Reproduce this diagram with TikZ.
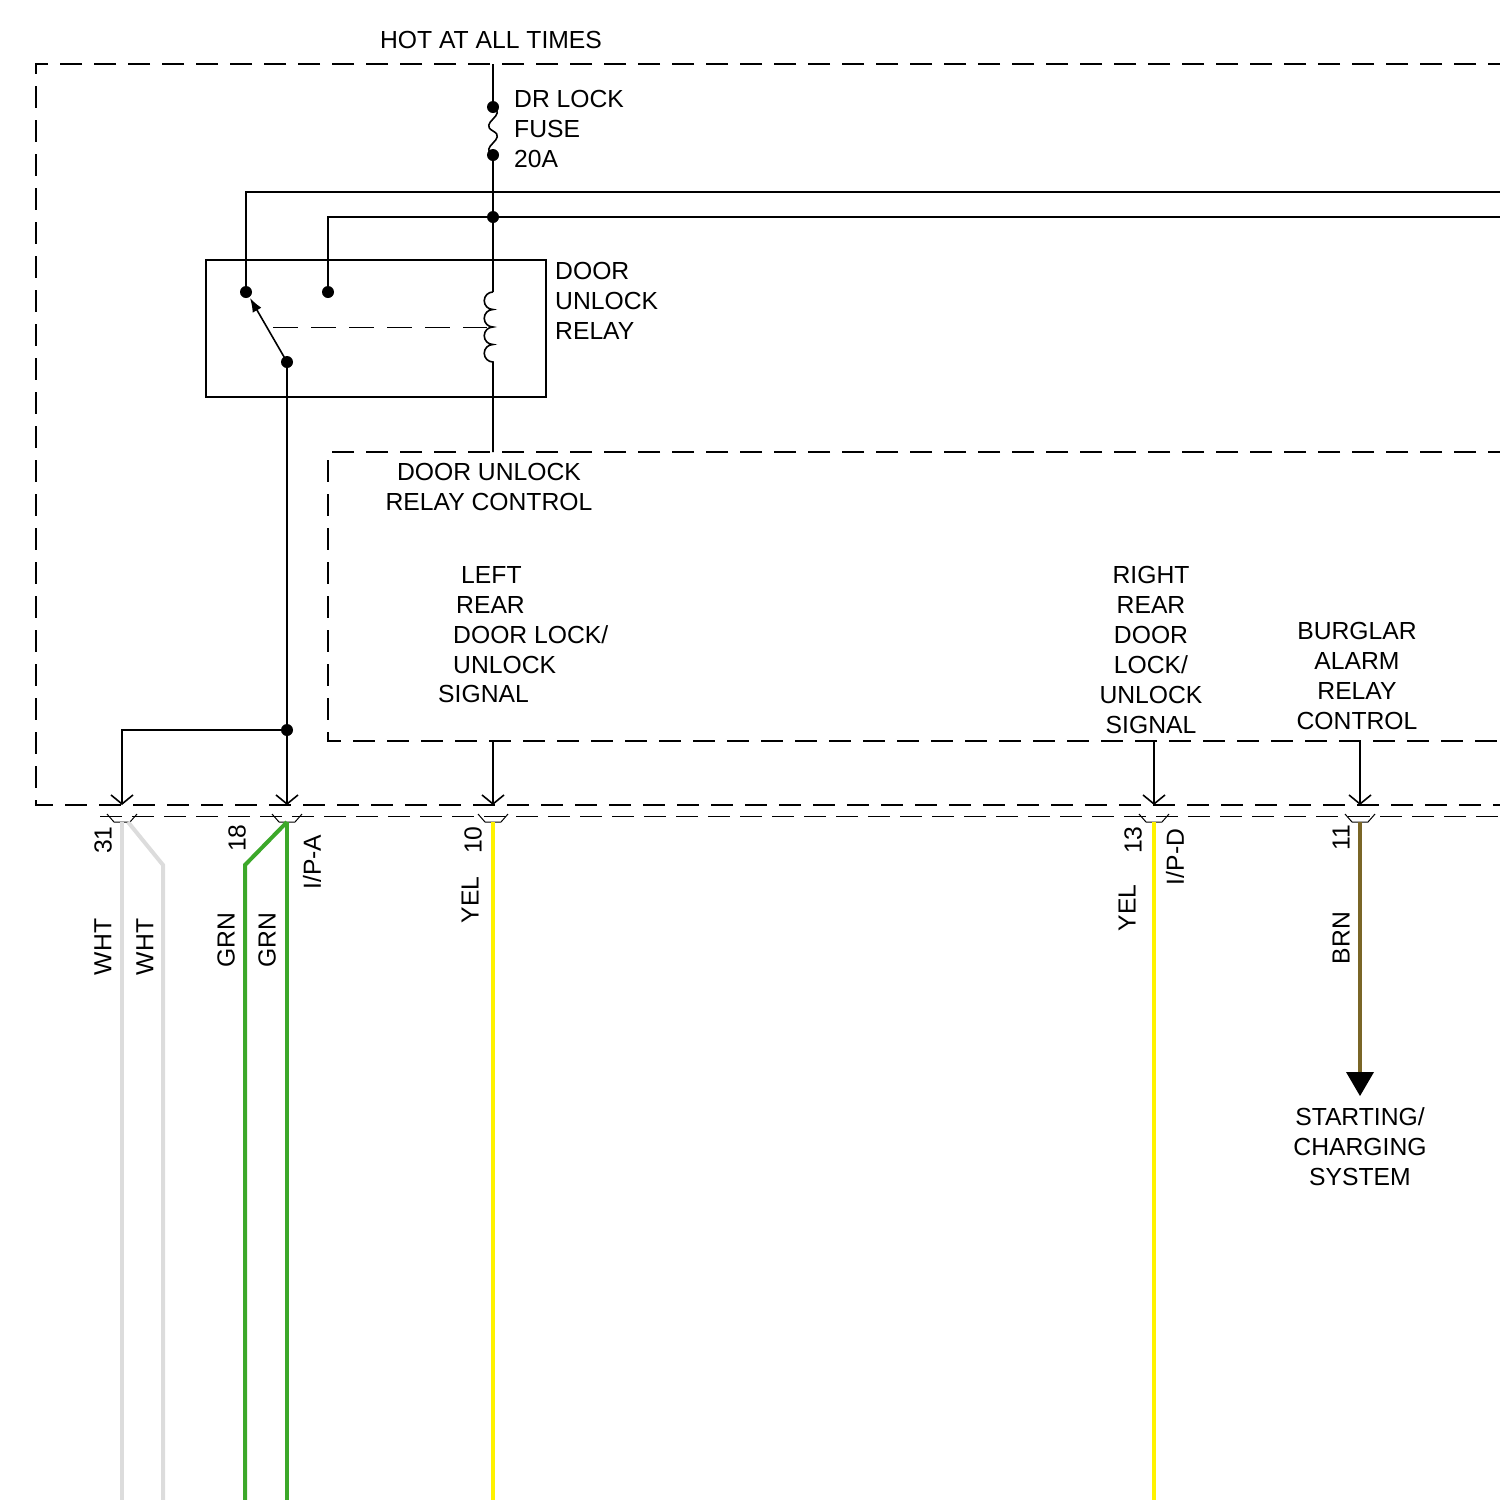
\documentclass[tikz,border=0pt]{standalone}
\usepackage{fontspec}
\setmainfont{Liberation Sans}
\usetikzlibrary{arrows.meta}
\definecolor{wgrn}{HTML}{3CA82A}
\definecolor{wbrn}{HTML}{7A6626}
\definecolor{wwht}{HTML}{DCDCDC}
\begin{document}
\begin{tikzpicture}[x=1pt,y=-1pt,
  wire/.style={line width=1.6pt},
  dsh/.style={line width=1.6pt,dash pattern=on 22pt off 12pt},
  dot/.style={circle,fill=black,inner sep=0pt,minimum size=12pt},
  lbl/.style={font=\fontsize{24.7}{30}\selectfont,inner sep=0pt},
  rl/.style={lbl,rotate=90},
  varr/.style={wire,-{Straight Barb[length=9pt,width=22pt,line width=1.6pt]}},
  cw/.style={line width=4pt}]
\useasboundingbox (0,0) rectangle (1500,1500);
% frames
\draw[dsh] (1510,64) -- (36,64) -- (36,805) -- (1510,805);
\draw[dsh] (1510,452) -- (328,452) -- (328,741) -- (1510,741);
\draw[line width=1pt,dash pattern=on 22pt off 10pt] (100,816) -- (1510,816);
% top texts
\node[lbl] (hot) at (491,40) {HOT AT ALL TIMES};
\node[lbl,anchor=west,align=left] (fuset) at (514,129) {DR LOCK\\FUSE\\20A};
\node[lbl,anchor=west,align=left] (relt) at (555,301) {DOOR\\UNLOCK\\RELAY};
\node[lbl,align=center] (ctl) at (489,487) {DOOR UNLOCK\\RELAY CONTROL};
% fuse
\coordinate (ftop) at (493,64);
\node[dot] (f1) at (493,107) {};
\node[dot] (f2) at (493,155) {};
\node[dot] (j1) at (493,217) {};
\draw[wire] (ftop) -- (f1.center);
\draw[wire] (f1.center) .. controls (508,115) and (478,123) .. (493,131) .. controls (508,139) and (478,147) .. (f2.center);
\draw[wire] (f2.center) -- (j1.center) -- (493,292);
\draw[wire] (493,292) \foreach \i in {0,...,3} { arc[start angle=90,end angle=270,radius=8.75pt] } -- (493,452);
% horizontal buses
\coordinate (b1) at (1510,192);
\coordinate (b2) at (1510,217);
% relay
\draw[wire] (206,260) rectangle (546,397);
\node[dot] (c1) at (246,292) {};
\node[dot] (c2) at (328,292) {};
\node[dot] (c3) at (287,362) {};
\draw[wire] (c1.center) -- (246,192) -- (b1);
\draw[wire] (c2.center) -- (328,217) -- (j1.center) -- (b2);
\draw[wire,-{Latex[length=14pt,width=10pt]}] (c3.center) -- (250,298);
\draw[line width=1pt,dash pattern=on 25pt off 13pt] (273,327) -- (487,327);
% lower feed
\node[dot] (j2) at (287,730) {};
\draw[wire] (c3.center) -- (j2.center);
\draw[varr] (j2.center) -- (287,805);
\draw[varr] (j2.center) -- (122,730) -- (122,805);
\draw[varr] (493,741) -- (493,805);
\draw[varr] (1154,741) -- (1154,805);
\draw[varr] (1360,741) -- (1360,805);
% signal texts
\node[lbl,anchor=west] at (461,575) {LEFT};
\node[lbl,anchor=west] at (456,605) {REAR};
\node[lbl,anchor=west] at (453,635) {DOOR LOCK/};
\node[lbl,anchor=west] at (453,665) {UNLOCK};
\node[lbl,anchor=west] at (438,694) {SIGNAL};
\node[lbl,align=center] (rr) at (1151,650) {RIGHT\\REAR\\DOOR\\LOCK/\\UNLOCK\\SIGNAL};
\node[lbl,align=center] (ba) at (1357,676) {BURGLAR\\ALARM\\RELAY\\CONTROL};
% connector cups
\foreach \x in {122,287,493,1154,1360}{
  \draw[line width=1pt] (\x-15,814) -- (\x-8,822) -- (\x+8,822) -- (\x+15,814);}
% wires
\draw[cw,wwht] (122,822) -- (122,1510);
\draw[cw,wwht] (128,822) -- (163,865) -- (163,1510);
\draw[cw,wgrn] (287,822) -- (287,1510);
\draw[cw,wgrn] (287,822) -- (245,865) -- (245,1510);
\draw[cw,yellow] (493,822) -- (493,1510);
\draw[cw,yellow] (1154,822) -- (1154,1510);
\draw[cw,wbrn] (1360,822) -- (1360,1075);
\fill (1346,1072) -- (1374,1072) -- (1360,1096) -- cycle;
\node[lbl,align=center] (scs) at (1360,1147) {STARTING/\\CHARGING\\SYSTEM};
% wire labels
\node[rl] at (103,840) {31};
\node[rl] at (103,947) {WHT};
\node[rl] at (145,947) {WHT};
\node[rl] at (237,838) {18};
\node[rl] at (226,940) {GRN};
\node[rl] at (267,940) {GRN};
\node[rl] at (312,862) {I/P-A};
\node[rl] at (473,840) {10};
\node[rl] at (470,900) {YEL};
\node[rl] at (1133,840) {13};
\node[rl] at (1127,908) {YEL};
\node[rl] at (1175,857) {I/P-D};
\node[rl] at (1341,838) {11};
\node[rl] at (1341,938) {BRN};
\end{tikzpicture}
\end{document}
